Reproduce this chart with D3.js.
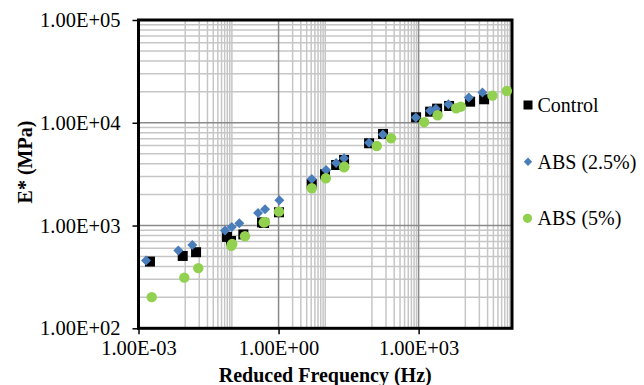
<!DOCTYPE html>
<html lang="en">
<head>
  <meta charset="utf-8">
  <title>E* vs Reduced Frequency</title>
  <script src="https://d3js.org/d3.v7.min.js"></script>
  <style>
    body { margin: 0; background: #fff; }
    text { font-family: "Liberation Serif", "Times New Roman", serif; fill: #000; }
  </style>
</head>
<body>
<script>
  // values
  var controlFreq = [0.00176, 0.00885, 0.0171, 0.0787, 0.176, 0.443, 0.096, 0.489, 1.02, 5.14, 9.9, 25.3, 17.1, 86.9, 173, 883, 1762, 4498, 2489, 12680, 25300];
  var controlE    = [446, 506, 550, 775, 819, 1072, 708, 1060, 1346, 2539, 3155, 4348, 3883, 6318, 7786, 11310, 12820, 14570, 13720, 16040, 16930];

  var abs25Freq = [0.00145, 0.00713, 0.0142, 0.0713, 0.1445, 0.364, 0.0993, 0.514, 1.04, 5.14, 10.4, 25.3, 17.1, 86.9, 171, 871, 1762, 4350, 2334, 11890, 23280];
  var abs25E    = [456, 570, 648, 896, 1052, 1327, 969, 1441, 1762, 2839, 3474, 4514, 4064, 6400, 7693, 11260, 13120, 15130, 13720, 17620, 19710];

  var abs5Freq = [0.00192, 0.00958, 0.0191, 0.0973, 0.191, 0.482, 0.102, 0.514, 1.02, 5.14, 10.3, 25.7, 25.3, 127, 257, 1310, 2551, 6353, 8017, 38100, 77600];
  var abs5E    = [201, 311, 385, 636, 787, 1072, 662, 1084, 1365, 2306, 2885, 3741, 3690, 5946, 7066, 10130, 11830, 13840, 14340, 18350, 20390];

  var seriesNames = ["Control", "ABS (2.5%)", "ABS (5%)"];
  var xTicks = [1e-3, 1e0, 1e3];
  var yTicks = [1e2, 1e3, 1e4, 1e5];

  var width = 644, height = 385;
  var plotL = 138.5, plotR = 512, plotT = 20, plotB = 328.3;

  var svg = d3.select("body").append("svg")
      .attr("width", width)
      .attr("height", height);

  var x = d3.scaleLog().domain([1e-3, 1e5]).range([plotL, plotR]);
  var y = d3.scaleLog().domain([1e2, 1e5]).range([plotB, plotT]);

  function sci(v) {
    var e = Math.round(Math.log10(v));
    var s = e < 0 ? "-" : "+";
    var a = Math.abs(e);
    return "1.00E" + s + (a < 10 ? "0" : "") + a;
  }

  // minor grid, the way the spreadsheet placed it on a base-1000 x axis
  var xMinor = [];
  for (var k = 1; k <= 10; k++) xMinor.push(k * 0.01);
  for (k = 2; k <= 10; k++) xMinor.push(k);
  for (k = 1; k <= 9; k++) xMinor.push(k * 100);
  for (k = 1; k <= 9; k++) xMinor.push(k * 1e4);
  var yMinor = [];
  [1e2, 1e3, 1e4].forEach(function(p) {
    for (var j = 2; j <= 9; j++) yMinor.push(j * p);
  });

  var grid = svg.append("g");
  grid.selectAll("line.xm").data(xMinor).enter().append("line")
      .attr("x1", function(d) { return x(d); }).attr("x2", function(d) { return x(d); })
      .attr("y1", plotT).attr("y2", plotB)
      .style("stroke", "#c6c6c6").style("stroke-width", 1.5);
  grid.selectAll("line.ym").data(yMinor).enter().append("line")
      .attr("y1", function(d) { return y(d); }).attr("y2", function(d) { return y(d); })
      .attr("x1", plotL).attr("x2", plotR)
      .style("stroke", "#c6c6c6").style("stroke-width", 1.5);
  grid.selectAll("line.xM").data(xTicks).enter().append("line")
      .attr("x1", function(d) { return x(d); }).attr("x2", function(d) { return x(d); })
      .attr("y1", plotT).attr("y2", plotB)
      .style("stroke", "#8a8a8a").style("stroke-width", 1.5);
  grid.selectAll("line.yM").data(yTicks).enter().append("line")
      .attr("y1", function(d) { return y(d); }).attr("y2", function(d) { return y(d); })
      .attr("x1", plotL).attr("x2", plotR)
      .style("stroke", "#8a8a8a").style("stroke-width", 1.5);

  // axes
  var xAxis = svg.append("g")
      .attr("transform", "translate(0," + plotB + ")")
      .call(d3.axisBottom(x).tickValues(xTicks).tickFormat(sci).tickSize(6).tickPadding(6));
  var yAxis = svg.append("g")
      .attr("transform", "translate(" + plotL + ",0)")
      .call(d3.axisLeft(y).tickValues(yTicks).tickFormat(sci).tickSize(6).tickPadding(12));
  [xAxis, yAxis].forEach(function(a) {
    a.select(".domain").remove();
    a.selectAll("line").style("stroke", "#000").style("stroke-width", 1.5);
    a.selectAll("text").style("font-size", "20.5px")
        .style("font-family", "'Liberation Serif', 'Times New Roman', serif");
  });

  svg.append("rect")
      .attr("x", plotL).attr("y", plotT)
      .attr("width", plotR - plotL).attr("height", plotB - plotT)
      .style("fill", "none").style("stroke", "#000").style("stroke-width", 3);

  // markers
  function diamond(r) { return "M0," + (-r) + "L" + r + ",0L0," + r + "L" + (-r) + ",0Z"; }

  var marks = svg.append("g");
  marks.selectAll("rect.c").data(d3.zip(controlFreq, controlE)).enter().append("rect")
      .attr("x", function(d) { return x(d[0]) - 5; })
      .attr("y", function(d) { return y(d[1]) - 5; })
      .attr("width", 10).attr("height", 10)
      .style("fill", "#000");
  marks.selectAll("path.a").data(d3.zip(abs25Freq, abs25E)).enter().append("path")
      .attr("transform", function(d) { return "translate(" + x(d[0]) + "," + y(d[1]) + ")"; })
      .attr("d", diamond(5))
      .style("fill", "#4a7ebb");
  marks.selectAll("circle.b").data(d3.zip(abs5Freq, abs5E)).enter().append("circle")
      .attr("cx", function(d) { return x(d[0]); })
      .attr("cy", function(d) { return y(d[1]); })
      .attr("r", 5.2)
      .style("fill", "#92d050");

  // legend
  var legY = [105, 161.7, 218.3];
  var leg = svg.append("g");
  leg.append("rect").attr("x", 523.5).attr("y", legY[0] - 4.5).attr("width", 9).attr("height", 9).style("fill", "#000");
  leg.append("path").attr("transform", "translate(528," + legY[1] + ")").attr("d", diamond(4.2)).style("fill", "#4a7ebb");
  leg.append("circle").attr("cx", 527.5).attr("cy", legY[2]).attr("r", 4.6).style("fill", "#92d050");
  leg.selectAll("text").data(seriesNames).enter().append("text")
      .attr("x", 537.5)
      .attr("y", function(d, i) { return legY[i]; })
      .attr("dy", "0.35em")
      .style("font-size", "20px")
      .text(function(d) { return d; });

  // titles
  svg.append("text")
      .attr("x", (plotL + plotR) / 2).attr("y", 382)
      .attr("text-anchor", "middle")
      .style("font-size", "20px").style("font-weight", "bold")
      .text("Reduced Frequency (Hz)");
  svg.append("text")
      .attr("transform", "translate(32,162) rotate(-90)")
      .attr("text-anchor", "middle")
      .style("font-size", "20px").style("font-weight", "bold")
      .text("E* (MPa)");
</script>
</body>
</html>
